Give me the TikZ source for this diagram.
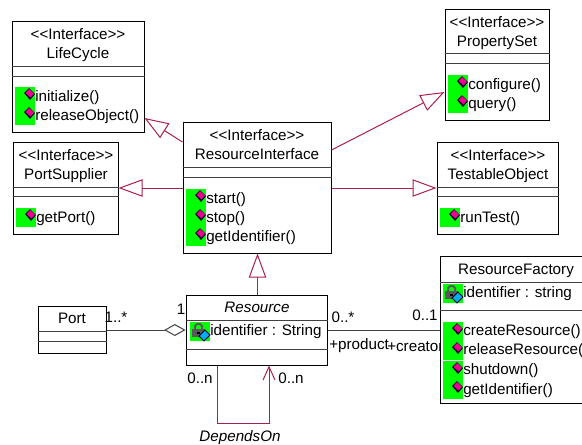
\documentclass[tikz,border=0pt]{standalone}
\usepackage{fontspec}
\usetikzlibrary{arrows.meta,fit,shapes.geometric}
\newfontfamily\umlfont{Liberation Sans}
\definecolor{umlred}{RGB}{170,30,80}
\definecolor{icongreen}{RGB}{0,255,0}
\tikzset{
    classbox/.style = {draw=black, line width=0.75pt, fill=white, inner sep=0pt},
    divider/.style = {draw=black!75, line width=0.7pt},
    title/.style = {font=\umlfont\fontsize{11.4pt}{13pt}\selectfont, inner sep=0pt, text height=8.5pt, text depth=2.4pt},
    italictitle/.style = {title, font=\umlfont\itshape\fontsize{11.4pt}{13pt}\selectfont},
    member/.style = {title, anchor=west},
    realize/.style = {umlred, line width=0.75pt, -{Triangle[open, fill=white, length=18pt, width=13pt]}},
    depends/.style = {umlred, line width=0.75pt, -{Straight Barb[length=10pt, width=9pt]}},
    assoc/.style = {black!75, line width=0.75pt},
}
% green square with the method mark, #1 #2 = upper left corner
\newcommand{\methodicon}[2]{
    \fill[icongreen] (#1,#2) rectangle ++(20,19);
    \fill[black!80!blue] (#1+14,#2+1) -- (#1+20,#2+7) -- (#1+15,#2+13) -- (#1+9,#2+6) -- cycle;
    \fill[magenta] (#1+14,#2+2) -- (#1+19,#2+6.5) -- (#1+15.5,#2+10.5) -- (#1+10.5,#2+6) -- cycle;
}
% green square with the lock mark
\newcommand{\lockicon}[2]{
    \fill[icongreen] (#1,#2) rectangle ++(20,19);
    \draw[black!65, line width=1.5pt] (#1+5,#2+8) -- (#1+5,#2+4) -- (#1+7,#2+2) -- (#1+10,#2+2) -- (#1+12,#2+4) -- (#1+12,#2+8);
    \fill[black!65] (#1+2,#2+7) rectangle (#1+15,#2+15);
    \fill[black] (#1+7,#2+10) rectangle (#1+10,#2+12);
    \filldraw[draw=black!80!blue, line width=0.75pt, fill=cyan] (#1+15,#2+8) -- (#1+20,#2+13) -- (#1+14,#2+19) -- (#1+9,#2+14) -- cycle;
}

\begin{document}
\begin{tikzpicture}[x=0.75pt, y=-0.75pt]
    \useasboundingbox (0,0) rectangle (582,444);

    % labels that run under the factory box
    \node[member] (creatorLabel) at (387,347) {+creator};

    % LifeCycle
    \node[classbox, fit={(12,21) (144,132)}] (lifeCycle) {};
    \draw[divider] (lifeCycle.west |- 0,66) -- (lifeCycle.east |- 0,66);
    \draw[divider] (lifeCycle.west |- 0,76) -- (lifeCycle.east |- 0,76);
    \node[title] (lifeCycleStereo) at (78,35) {<<Interface>>};
    \node[title] (lifeCycleName) at (78,54) {LifeCycle};
    \methodicon{15}{87}
    \methodicon{15}{106}
    \node[member] (initialize) at (35,97) {initialize()};
    \node[member] (releaseObject) at (35,116) {releaseObject()};

    % PortSupplier
    \node[classbox, fit={(13,142) (118,234)}] (portSupplier) {};
    \draw[divider] (portSupplier.west |- 0,187) -- (portSupplier.east |- 0,187);
    \draw[divider] (portSupplier.west |- 0,196) -- (portSupplier.east |- 0,196);
    \node[title] (portSupplierStereo) at (66,156) {<<Interface>>};
    \node[title] (portSupplierName) at (66,175) {PortSupplier};
    \methodicon{16}{208}
    \node[member] (getPort) at (36,218) {getPort()};

    % ResourceInterface
    \node[classbox, fit={(183,122) (331,253)}] (resourceInterface) {};
    \draw[divider] (resourceInterface.west |- 0,167) -- (resourceInterface.east |- 0,167);
    \draw[divider] (resourceInterface.west |- 0,177) -- (resourceInterface.east |- 0,177);
    \node[title] (interfaceStereo) at (257,136) {<<Interface>>};
    \node[title] (interfaceName) at (257,155) {ResourceInterface};
    \foreach \y in {189,208,227} {
        \methodicon{186}{\y}
    }
    \node[member] (start) at (206,199) {start()};
    \node[member] (stop) at (206,218) {stop()};
    \node[member] (getIdentifierA) at (206,237) {getIdentifier()};

    % PropertySet
    \node[classbox, fit={(445,9) (549,120)}] (propertySet) {};
    \draw[divider] (propertySet.west |- 0,53) -- (propertySet.east |- 0,53);
    \draw[divider] (propertySet.west |- 0,63) -- (propertySet.east |- 0,63);
    \node[title] (propertySetStereo) at (497,23) {<<Interface>>};
    \node[title] (propertySetName) at (497,42) {PropertySet};
    \methodicon{448}{75}
    \methodicon{448}{94}
    \node[member] (configure) at (468,85) {configure()};
    \node[member] (query) at (468,104) {query()};

    % TestableObject
    \node[classbox, fit={(437,142) (558,234)}] (testableObject) {};
    \draw[divider] (testableObject.west |- 0,187) -- (testableObject.east |- 0,187);
    \draw[divider] (testableObject.west |- 0,196) -- (testableObject.east |- 0,196);
    \node[title] (testableStereo) at (498,156) {<<Interface>>};
    \node[title] (testableName) at (498,175) {TestableObject};
    \methodicon{440}{208}
    \node[member] (runTest) at (460,218) {runTest()};

    % Port
    \node[classbox, fit={(38,306) (106,353)}] (port) {};
    \draw[divider] (port.west |- 0,331) -- (port.east |- 0,331);
    \draw[divider] (port.west |- 0,341) -- (port.east |- 0,341);
    \node[title] (portName) at (72,319) {Port};

    % Resource
    \node[classbox, fit={(186,295) (327,365)}] (resource) {};
    \draw[divider] (resource.west |- 0,320) -- (resource.east |- 0,320);
    \draw[divider] (resource.west |- 0,349) -- (resource.east |- 0,349);
    \node[italictitle] (resourceName) at (257,308) {Resource};
    \lockicon{190}{322}
    \node[member] (identifierA) at (210,331) {identifier : String};

    % ResourceFactory
    \node[classbox, fit={(440,256) (590,403)}] (factory) {};
    \draw[divider] (factory.west |- 0,282) -- (factory.east |- 0,282);
    \draw[divider] (factory.west |- 0,310) -- (factory.east |- 0,310);
    \node[title] (factoryName) at (516,270) {ResourceFactory};
    \lockicon{443}{284}
    \node[member] (identifierB) at (463,293) {identifier : string};
    \foreach \y in {322,341,361,380} {
        \methodicon{443}{\y}
    }
    \node[member] (createResource) at (463,331) {createResource()};
    \node[member] (releaseResource) at (463,350) {releaseResource()};
    \node[member] (shutdown) at (463,370) {shutdown()};
    \node[member] (getIdentifierB) at (463,390) {getIdentifier()};

    % realizations
    \draw[realize] (resourceInterface.west |- 0,142) -- (lifeCycle.east |- 0,118);
    \draw[realize] (resourceInterface.west |- 0,188) -- (portSupplier.east |- 0,188);
    \draw[realize] (resourceInterface.east |- 0,150) -- (propertySet.west |- 0,92);
    \draw[realize] (resourceInterface.east |- 0,188) -- (testableObject.west |- 0,188);
    \draw[realize] (resource.north -| 257.5,0) -- (resourceInterface.south -| 257.5,0);

    % associations
    \draw[assoc, {Diamond[open, fill=white, length=16pt, width=9pt]}-] (resource.west |- 0,330) -- (port.east |- 0,330);
    \draw[assoc] (resource.east |- 0,330) -- (factory.west |- 0,330);
    \coordinate (selfA) at (217.5,423);
    \coordinate (selfB) at (269,423);
    \draw[depends] (resource.south -| selfA) -- (selfA) -- (selfB) -- (resource.south -| selfB);

    % multiplicities and role names
    \node[title] (portMult) at (116,318) {1..*};
    \node[title] (resourceMult) at (181,310) {1};
    \node[title] (productMult) at (343,318) {0..*};
    \node[title] (creatorMult) at (425,316) {0..1};
    \node[member] (productLabel) at (329,345) {+product};
    \node[title] (selfMultA) at (200,379) {0..n};
    \node[title] (selfMultB) at (291,379) {0..n};
    \node[italictitle] (dependsLabel) at (240,437) {DependsOn};
\end{tikzpicture}
\end{document}
